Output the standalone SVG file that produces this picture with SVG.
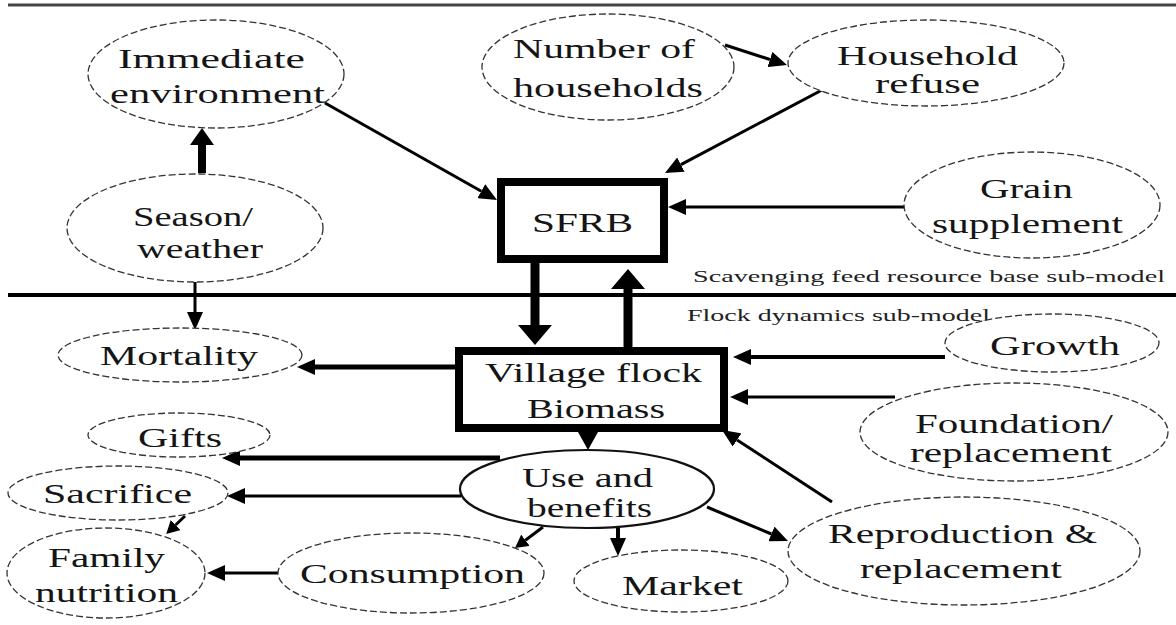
<svg xmlns="http://www.w3.org/2000/svg" width="1176" height="625" viewBox="0 0 1176 625">
<style>
.n{fill:#fff;stroke:#333;stroke-width:1.3;stroke-dasharray:7 3}
.s{fill:#fff;stroke:#111;stroke-width:2.2}
.b{fill:#fff;stroke:#000;stroke-width:8}
.t{font-family:"Liberation Serif","Times New Roman",serif;font-size:28px;fill:#151515}
.sm{font-family:"Liberation Serif","Times New Roman",serif;font-size:17px;fill:#222}
.c{stroke:#000;fill:none}
</style>
<defs>
<marker id="ah" markerUnits="userSpaceOnUse" markerWidth="18" markerHeight="16" refX="0" refY="8" orient="auto"><path d="M0,0 L18,8 L0,16 z" fill="#000"/></marker>
<marker id="ahs" markerUnits="userSpaceOnUse" markerWidth="13" markerHeight="14" refX="0" refY="7" orient="auto"><path d="M0,0 L13,7 L0,14 z" fill="#000"/></marker>
<marker id="ahm" markerUnits="userSpaceOnUse" markerWidth="17" markerHeight="24" refX="0" refY="12" orient="auto"><path d="M0,0 L17,12 L0,24 z" fill="#000"/></marker>
<marker id="ahb" markerUnits="userSpaceOnUse" markerWidth="20" markerHeight="34" refX="0" refY="17" orient="auto"><path d="M0,0 L20,17 L0,34 z" fill="#000"/></marker>
</defs>
<rect width="1176" height="625" fill="#fff"/>
<line x1="8" y1="5" x2="1176" y2="5" stroke="#444" stroke-width="3"/>
<line x1="8" y1="295" x2="1176" y2="295" stroke="#000" stroke-width="4"/>
<text class="sm" x="693" y="282" textLength="472" lengthAdjust="spacingAndGlyphs">Scavenging feed resource base sub-model</text>
<text class="sm" x="687" y="321" font-size="16" textLength="303" lengthAdjust="spacingAndGlyphs">Flock dynamics sub-model</text>

<g id="connectors">
<line class="c" x1="202" y1="173" x2="202" y2="145" stroke-width="8" marker-end="url(#ahm)"/>
<line class="c" x1="195" y1="282" x2="195" y2="312" stroke-width="3" marker-end="url(#ah)"/>
<line class="c" x1="325" y1="103" x2="481.3" y2="191.2" stroke-width="3" marker-end="url(#ah)"/>
<line class="c" x1="725" y1="45" x2="769.9" y2="59.5" stroke-width="3" marker-end="url(#ah)"/>
<line class="c" x1="822" y1="90" x2="680.9" y2="164.6" stroke-width="3" marker-end="url(#ah)"/>
<line class="c" x1="905" y1="207" x2="686" y2="207" stroke-width="3" marker-end="url(#ah)"/>
<line class="c" x1="535" y1="263" x2="535" y2="325" stroke-width="9" marker-end="url(#ahb)"/>
<line class="c" x1="628" y1="347" x2="628" y2="289" stroke-width="9" marker-end="url(#ahb)"/>
<line class="c" x1="455" y1="367" x2="315" y2="367" stroke-width="5" marker-end="url(#ah)"/>
<line class="c" x1="945" y1="357" x2="751" y2="357" stroke-width="4" marker-end="url(#ah)"/>
<line class="c" x1="895" y1="397" x2="748" y2="397" stroke-width="3" marker-end="url(#ah)"/>
<line class="c" x1="832" y1="502" x2="737.1" y2="439.9" stroke-width="3" marker-end="url(#ah)"/>
<path d="M578,432 L598,432 L588,450 z" fill="#000"/>
<line class="c" x1="500" y1="458" x2="240" y2="458" stroke-width="5" marker-end="url(#ah)"/>
<line class="c" x1="461" y1="496" x2="245" y2="496" stroke-width="3" marker-end="url(#ah)"/>
<line class="c" x1="185" y1="516" x2="175.6" y2="525" stroke-width="3" marker-end="url(#ahs)"/>
<line class="c" x1="278" y1="573" x2="225" y2="573" stroke-width="3" marker-end="url(#ah)"/>
<line class="c" x1="543" y1="527" x2="525.4" y2="540.2" stroke-width="3" marker-end="url(#ahs)"/>
<line class="c" x1="618" y1="527" x2="618" y2="538" stroke-width="4" marker-end="url(#ah)"/>
<line class="c" x1="707" y1="507" x2="771.4" y2="534" stroke-width="3" marker-end="url(#ah)"/>
</g>

<g id="immediate"><ellipse class="n" cx="216" cy="74" rx="128" ry="54"/>
<text class="t" x="118" y="68" textLength="187" lengthAdjust="spacingAndGlyphs">Immediate</text>
<text class="t" x="110" y="103" textLength="215" lengthAdjust="spacingAndGlyphs">environment</text></g>

<g id="season"><ellipse class="n" cx="195" cy="228" rx="128" ry="54"/>
<text class="t" x="133" y="226" textLength="120" lengthAdjust="spacingAndGlyphs">Season/</text>
<text class="t" x="137" y="258" textLength="126" lengthAdjust="spacingAndGlyphs">weather</text></g>

<g id="households"><ellipse class="n" cx="608" cy="67" rx="126" ry="53"/>
<text class="t" x="513" y="58" textLength="182" lengthAdjust="spacingAndGlyphs">Number of</text>
<text class="t" x="513" y="97" textLength="190" lengthAdjust="spacingAndGlyphs">households</text></g>

<g id="refuse"><ellipse class="n" cx="926" cy="63" rx="138" ry="43"/>
<text class="t" x="837" y="65" textLength="181" lengthAdjust="spacingAndGlyphs">Household</text>
<text class="t" x="875" y="93" textLength="105" lengthAdjust="spacingAndGlyphs">refuse</text></g>

<g id="sfrb"><rect class="b" x="501" y="182" width="163" height="77"/>
<text class="t" x="532" y="232" font-size="33" textLength="101" lengthAdjust="spacingAndGlyphs">SFRB</text></g>

<g id="grain"><ellipse class="n" cx="1032" cy="205" rx="128" ry="53"/>
<text class="t" x="980" y="198" textLength="93" lengthAdjust="spacingAndGlyphs">Grain</text>
<text class="t" x="932" y="233" textLength="191" lengthAdjust="spacingAndGlyphs">supplement</text></g>

<g id="mortality"><ellipse class="n" cx="180" cy="355" rx="122" ry="27"/>
<text class="t" x="100" y="365" textLength="158" lengthAdjust="spacingAndGlyphs">Mortality</text></g>

<g id="village"><rect class="b" x="459" y="351" width="265" height="77"/>
<text class="t" x="485" y="382" textLength="217" lengthAdjust="spacingAndGlyphs">Village flock</text>
<text class="t" x="527" y="418" textLength="138" lengthAdjust="spacingAndGlyphs">Biomass</text></g>

<g id="growth"><ellipse class="n" cx="1052" cy="343" rx="107" ry="29"/>
<text class="t" x="990" y="355" textLength="130" lengthAdjust="spacingAndGlyphs">Growth</text></g>

<g id="foundation"><ellipse class="n" cx="1014" cy="432" rx="154" ry="49"/>
<text class="t" x="915" y="433" textLength="198" lengthAdjust="spacingAndGlyphs">Foundation/</text>
<text class="t" x="910" y="462" textLength="202" lengthAdjust="spacingAndGlyphs">replacement</text></g>

<g id="gifts"><ellipse class="n" cx="179" cy="435" rx="91" ry="22"/>
<text class="t" x="138" y="447" textLength="84" lengthAdjust="spacingAndGlyphs">Gifts</text></g>

<g id="use"><ellipse class="s" cx="587" cy="489" rx="127" ry="39"/>
<text class="t" x="522" y="487" textLength="131" lengthAdjust="spacingAndGlyphs">Use and</text>
<text class="t" x="527" y="517" textLength="125" lengthAdjust="spacingAndGlyphs">benefits</text></g>

<g id="sacrifice"><ellipse class="n" cx="118" cy="493" rx="110" ry="27"/>
<text class="t" x="43" y="503" textLength="149" lengthAdjust="spacingAndGlyphs">Sacrifice</text></g>

<g id="reproduction"><ellipse class="n" cx="964" cy="551" rx="176" ry="54"/>
<text class="t" x="828" y="543" textLength="269" lengthAdjust="spacingAndGlyphs">Reproduction &amp;</text>
<text class="t" x="860" y="578" textLength="202" lengthAdjust="spacingAndGlyphs">replacement</text></g>

<g id="family"><ellipse class="n" cx="106" cy="573" rx="99" ry="45"/>
<text class="t" x="48" y="567" textLength="117" lengthAdjust="spacingAndGlyphs">Family</text>
<text class="t" x="35" y="602" textLength="143" lengthAdjust="spacingAndGlyphs">nutrition</text></g>

<g id="consumption"><ellipse class="n" cx="411" cy="573" rx="133" ry="40"/>
<text class="t" x="300" y="583" textLength="225" lengthAdjust="spacingAndGlyphs">Consumption</text></g>

<g id="market"><ellipse class="n" cx="681" cy="581" rx="107" ry="31"/>
<text class="t" x="622" y="595" textLength="121" lengthAdjust="spacingAndGlyphs">Market</text></g>
</svg>
